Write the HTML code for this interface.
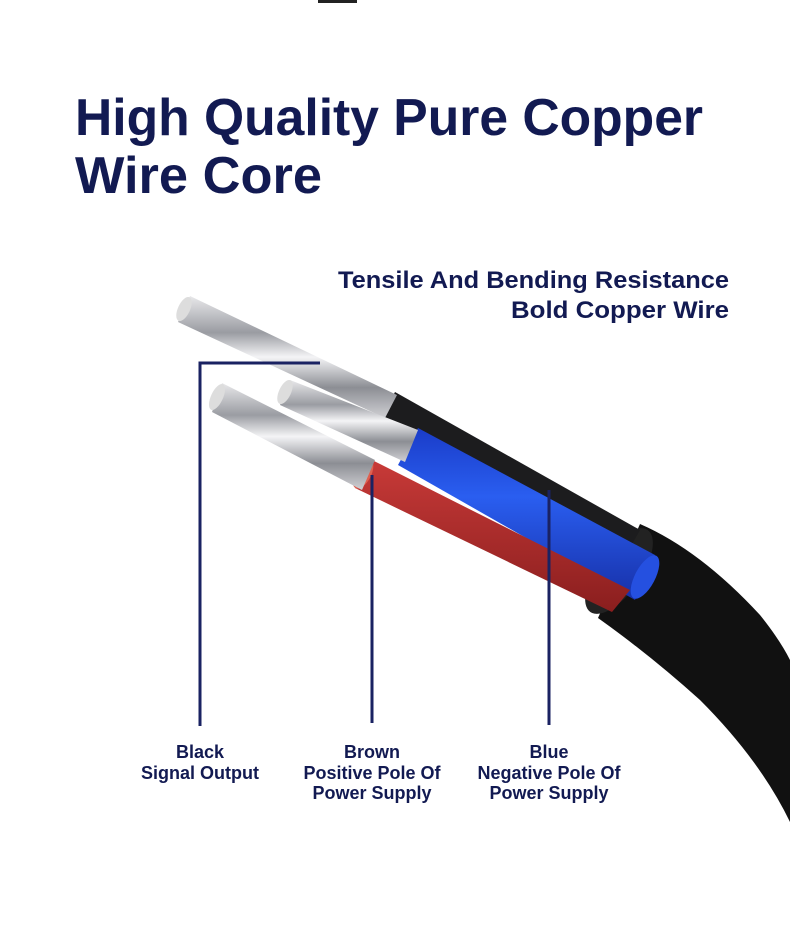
<!DOCTYPE html>
<html><head><meta charset="utf-8"><style>
html,body{margin:0;padding:0;background:#fff;}
svg{display:block;}
text{font-family:"Liberation Sans",sans-serif;font-weight:bold;fill:#121a52;}
</style></head><body>
<svg width="790" height="942" viewBox="0 0 790 942" xmlns="http://www.w3.org/2000/svg">
<defs>
<linearGradient id="silver" x1="0" y1="0" x2="0" y2="1">
<stop offset="0" stop-color="#e8e8ea"/><stop offset="0.3" stop-color="#9a9ca2"/><stop offset="0.5" stop-color="#f4f4f6"/><stop offset="0.75" stop-color="#8c8e94"/><stop offset="1" stop-color="#d0d0d4"/></linearGradient>
<linearGradient id="blue" x1="0" y1="0" x2="0" y2="1"><stop offset="0" stop-color="#1a3cc8"/><stop offset="0.4" stop-color="#2a5ef0"/><stop offset="1" stop-color="#1730a8"/></linearGradient>
<linearGradient id="red" x1="0" y1="0" x2="0" y2="1"><stop offset="0" stop-color="#c83a38"/><stop offset="1" stop-color="#8a1e1e"/></linearGradient>
</defs>
<rect x="318" y="0" width="39" height="3" fill="#222"/>
<text x="75" y="135" font-size="52" textLength="628" lengthAdjust="spacingAndGlyphs">High Quality Pure Copper</text>
<text x="75" y="193" font-size="52" textLength="247" lengthAdjust="spacingAndGlyphs">Wire Core</text>
<text x="729" y="288" font-size="24" text-anchor="end" textLength="391" lengthAdjust="spacingAndGlyphs">Tensile And Bending Resistance</text>
<text x="729" y="318" font-size="24" text-anchor="end" textLength="218" lengthAdjust="spacingAndGlyphs">Bold Copper Wire</text>

<!-- outer jacket -->
<path d="M640 524 Q700 550 760 615 Q780 640 790 660 L790 822 Q760 760 700 700 Q650 655 598 618 Z" fill="#111"/>
<ellipse cx="619" cy="571" rx="22" ry="50" transform="rotate(35 619 571)" fill="#222"/>
<!-- black inner wire -->
<path d="M395 392 L640 530 L620 565 L380 420 Z" fill="#1c1c1e"/>
<!-- silver strands top -->
<path d="M190 296 L397 395 L385 418 L178 322 Z" fill="url(#silver)"/>
<ellipse cx="184" cy="309" rx="6" ry="13" transform="rotate(25 184 309)" fill="#ddd"/>
<!-- blue wire -->
<path d="M418 428 L655 555 L635 600 L398 465 Z" fill="url(#blue)"/>
<ellipse cx="645" cy="577" rx="10" ry="24" transform="rotate(28 645 577)" fill="#2550e0"/>
<!-- strands middle -->
<path d="M290 380 L418 430 L405 462 L280 405 Z" fill="url(#silver)"/>
<ellipse cx="285" cy="392" rx="6" ry="13" transform="rotate(25 285 392)" fill="#ddd"/>
<!-- red wire -->
<path d="M372 460 L630 590 L612 612 L355 488 Z" fill="url(#red)"/>
<ellipse cx="363" cy="474" rx="8" ry="16" transform="rotate(28 363 474)" fill="#e06050"/>
<!-- strands lower -->
<path d="M222 383 L375 460 L362 490 L212 412 Z" fill="url(#silver)"/>
<ellipse cx="217" cy="397" rx="6" ry="14" transform="rotate(25 217 397)" fill="#ddd"/>

<!-- leader lines -->
<g stroke="#1a2262" stroke-width="3" fill="none">
<path d="M320 363 L200 363 L200 726"/>
<path d="M372 475 L372 723"/>
<path d="M549 490 L549 725"/>
</g>

<g font-size="18" text-anchor="middle">
<text x="200" y="758">Black</text>
<text x="200" y="779">Signal Output</text>
<text x="372" y="758">Brown</text>
<text x="372" y="779">Positive Pole Of</text>
<text x="372" y="799">Power Supply</text>
<text x="549" y="758">Blue</text>
<text x="549" y="779">Negative Pole Of</text>
<text x="549" y="799">Power Supply</text>
</g>
</svg>
</body></html>
